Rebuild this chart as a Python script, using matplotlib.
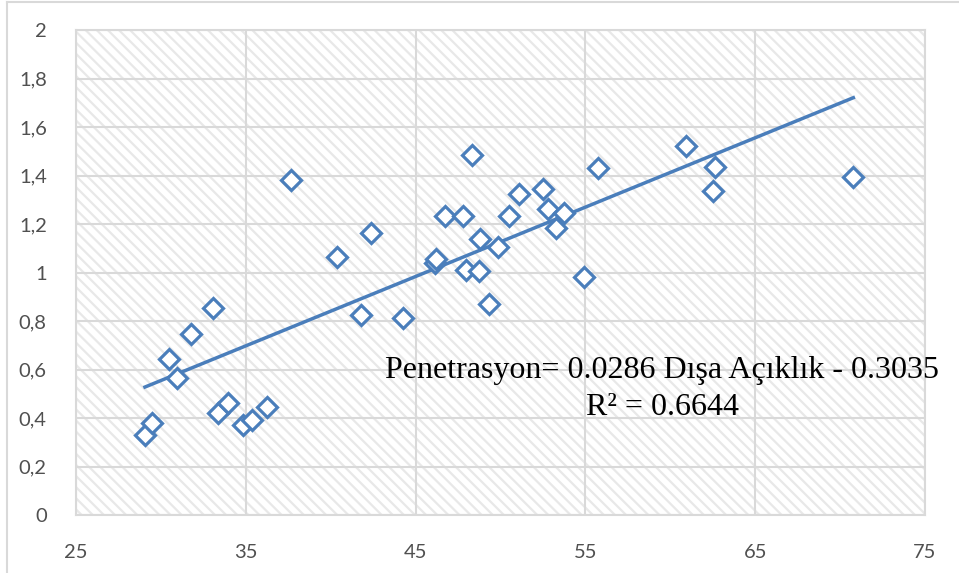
import matplotlib.pyplot as plt
from matplotlib.patches import Rectangle
from matplotlib.lines import Line2D
from matplotlib.ticker import FuncFormatter
import numpy as np

# Dışa Açıklık (x) vs Penetrasyon (y)
disa_aciklik = [29.06, 29.45, 30.49, 30.94, 31.75, 33.04, 33.37, 33.98, 34.84, 35.34,
                36.22, 37.65, 40.39, 41.76, 42.35, 44.24, 46.12, 46.18, 46.72, 47.82,
                47.96, 48.34, 48.76, 48.81, 49.35, 49.84, 50.53, 51.08, 52.49, 52.81,
                53.29, 53.72, 54.94, 55.74, 60.92, 62.65, 62.51, 70.78]
penetrasyon = [0.331, 0.378, 0.643, 0.564, 0.748, 0.852, 0.422, 0.461, 0.370, 0.392,
               0.445, 1.381, 1.063, 0.825, 1.164, 0.814, 1.040, 1.054, 1.233, 1.232,
               1.010, 1.485, 1.007, 1.139, 0.869, 1.106, 1.232, 1.324, 1.343, 1.261,
               1.182, 1.247, 0.983, 1.431, 1.522, 1.436, 1.335, 1.395]

slope = 0.0286
intercept = -0.3035
r2 = 0.6644

x_ticks = [25, 35, 45, 55, 65, 75]
y_ticks = [0, 0.2, 0.4, 0.6, 0.8, 1.0, 1.2, 1.4, 1.6, 1.8, 2.0]

blue = '#4a7ebb'
grid_col = '#d9d9d9'

fig = plt.figure(figsize=(9.59, 5.73), dpi=100)
ax = fig.add_axes([76 / 959, 58 / 573, 849 / 959, 485 / 573])

# hatched plot area
plt.rcParams['hatch.linewidth'] = 1.6
bg = Rectangle((0, 0), 1, 1, transform=ax.transAxes, facecolor='white',
               edgecolor='#e8e8e8', linewidth=0, hatch='\\\\\\', zorder=0)
ax.add_patch(bg)

ax.set_xlim(25, 75)
ax.set_ylim(0, 2)
ax.set_xticks(x_ticks)
ax.set_yticks(y_ticks)
ax.yaxis.set_major_formatter(FuncFormatter(lambda v, p: f'{v:g}'.replace('.', ',')))
ax.set_axisbelow(True)
ax.grid(True, color=grid_col, linewidth=1.5, zorder=0.5)
for s in ax.spines.values():
    s.set_color(grid_col)
    s.set_linewidth(1.5)
ax.tick_params(length=0, labelsize=14.5, labelcolor='#505050')
ax.tick_params(axis='x', pad=21)
ax.tick_params(axis='y', pad=21)
for lab in ax.get_xticklabels() + ax.get_yticklabels():
    lab.set_family('Lato')

ax.plot(disa_aciklik, penetrasyon, linestyle='none', marker='D', markersize=10,
        markerfacecolor='white', markeredgecolor=blue, markeredgewidth=2.3, zorder=3)

xs = np.array([min(disa_aciklik), max(disa_aciklik)])
ax.plot(xs, slope * xs + intercept, color=blue, linewidth=2.5, zorder=2)

ax.text(59.53, 0.565, f'Penetrasyon= {slope} Dışa Açıklık - {-intercept}',
        ha='center', va='baseline', fontsize=23, family='Liberation Serif', zorder=4)
ax.text(59.53, 0.412, f'R² = {r2}', ha='center', va='baseline', fontsize=23,
        family='Liberation Serif', zorder=4)

# chart frame
fig.add_artist(Line2D([7 / 959, 7 / 959], [0, 1 - 1.5 / 573], color=grid_col, linewidth=1.5))
fig.add_artist(Line2D([7 / 959, 1], [1 - 1.5 / 573, 1 - 1.5 / 573], color=grid_col, linewidth=1.5))

fig.savefig('out.png', dpi=100)
